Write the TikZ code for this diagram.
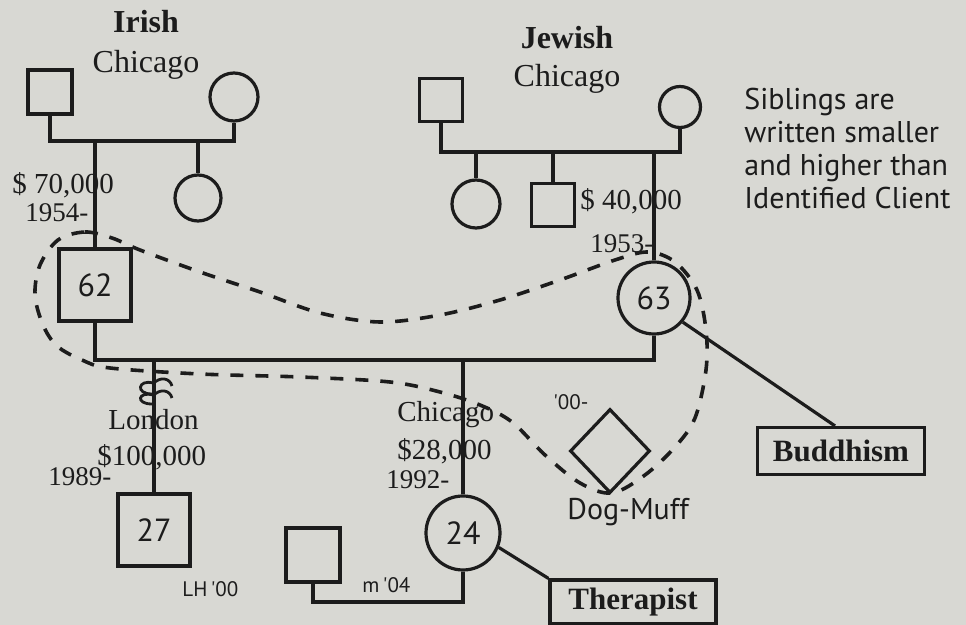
\documentclass[tikz,border=0pt]{standalone}
\usepackage{fontspec}
\setmainfont{Liberation Serif}
\newfontfamily\labelsans{PT Sans}
\usepackage{tikz}
\usetikzlibrary{shapes.geometric, positioning}
\definecolor{paper}{RGB}{216,216,211}
\definecolor{ink}{RGB}{28,28,28}
\tikzset{
  male/.style={rectangle, draw=ink, line width=1.6pt, inner sep=0pt, minimum size=#1,
               font=\labelsans\fontsize{16}{16}\selectfont, text=ink},
  female/.style={circle, draw=ink, line width=1.6pt, inner sep=0pt, minimum size=#1,
               font=\labelsans\fontsize{16}{16}\selectfont, text=ink},
  pet/.style={diamond, draw=ink, line width=1.6pt, inner sep=0pt,
              minimum width=40pt, minimum height=42pt},
  origin/.style={font=\bfseries\fontsize{16}{18}\selectfont, text=ink, inner sep=0pt},
  city/.style={font=\fontsize{16}{18}\selectfont, text=ink, inner sep=0pt},
  info/.style={font=\fontsize{14.5}{16}\selectfont, text=ink, inner sep=0pt, anchor=base west},
  since/.style={font=\fontsize{13.5}{15}\selectfont, text=ink, inner sep=0pt, anchor=base west},
  note/.style={font=\labelsans\fontsize{10.5}{12}\selectfont, text=ink, inner sep=0pt, anchor=base west},
  issue/.style={rectangle, draw=ink, line width=1.6pt, inner sep=0pt,
                font=\bfseries\fontsize{15.5}{17}\selectfont, text=ink},
  rel/.style={draw=ink, line width=1.6pt},
  boundary/.style={draw=ink, line width=1.8pt, dash pattern=on 6.5pt off 6pt},
}

\begin{document}
\begin{tikzpicture}[x=0.5pt, y=-0.5pt]

  % ── Paper ────────────────────────────────────────────────────────────
  \fill[paper] (0,0) rectangle (966,625);
  \useasboundingbox (0,0) rectangle (966,625);

  % ── Irish side ───────────────────────────────────────────────────────
  \node[origin] (irish) at (146,22) {Irish};
  \node[city] (irishcity) at (146,65) {Chicago};
  \node[male=22pt] (irishdad) at (50,92) {};
  \node[female=24pt] (irishmom) at (234,97) {};
  \node[female=23pt] (aunt) at (198,198) {};
  \coordinate (irishbar) at (140,141);
  \draw[rel] (irishdad.south) |- (irishbar) -| (irishmom.south);
  \draw[rel] (aunt.north |- irishbar) -- (aunt.north);

  % ── Jewish side ──────────────────────────────────────────────────────
  \node[origin] (jewish) at (567,38) {Jewish};
  \node[city] (jewishcity) at (567,79) {Chicago};
  \node[male=21.5pt] (jewdad) at (441,100) {};
  \node[female=20.5pt] (jewmom) at (680,107) {};
  \node[female=24pt] (jewaunt) at (476,204) {};
  \node[male=21.5pt] (jewuncle) at (553,205) {};
  \coordinate (jewbar) at (560,152);
  \draw[rel] (jewdad.south) |- (jewbar) -| (jewmom.south);
  \draw[rel] (jewaunt.north |- jewbar) -- (jewaunt.north);
  \draw[rel] (jewuncle.north |- jewbar) -- (jewuncle.north);

  % ── Parents ──────────────────────────────────────────────────────────
  \node[male=36pt] (client62) at (95,285) {62};
  \node[female=36pt] (mom63) at (654,298) {63};
  \draw[rel] (client62.north |- irishbar) -- (client62.north);
  \draw[rel] (mom63.north |- jewbar) -- (mom63.north);
  \node[info] (inc62) at (12,194) {\$ 70,000};
  \node[since] (yr62) at (25,222) {1954-};
  \node[info] (inc63) at (580,210) {\$ 40,000};
  \node[since] (yr63) at (590,253) {1953-};
  \coordinate (parentbar) at (380,360);
  \draw[rel] (client62.south) |- (parentbar) -| (mom63.south);

  % ── Children ─────────────────────────────────────────────────────────
  \node[male=36pt] (son27) at (154,530) {27};
  \node[female=37pt] (dau24) at (463,533) {24};
  \draw[rel] (son27.north |- parentbar) -- (son27.north);
  \draw[rel] (dau24.north |- parentbar) -- (dau24.north);
  \node[info] (city27) at (108,430) {London};
  \node[info] (inc27) at (97,466) {\$100,000};
  \node[since] (yr27) at (48,486) {1989-};
  \node[info] (city24) at (397,422) {Chicago};
  \node[info] (inc24) at (397,460) {\$28,000};
  \node[since] (yr24) at (386,489) {1992-};
  \node[note] (lh27) at (182,597) {LH\,'00};

  % cut-off mark on the son's line
  \coordinate (cut) at (153,384);
  \begin{scope}[shift={(cut)}, line width=1.4pt]
    \draw[ink] (0,0) .. controls (7,-8) and (17,-6) .. (19,2);
    \draw[ink] (0,-1) .. controls (-15,-5) and (-18,10) .. (-1,10);
    \draw[ink] (0,12) .. controls (7,4) and (17,6) .. (19,14);
    \draw[ink] (0,11) .. controls (-15,7) and (-18,20) .. (-1,20);
  \end{scope}

  % ── Daughter's marriage ──────────────────────────────────────────────
  \node[male=27pt] (sonlaw) at (313,555) {};
  \coordinate (marr24) at (390,602);
  \draw[rel] (sonlaw.south) |- (marr24) -| (dau24.south);
  \node[note] (m24) at (362,593) {m\,'04};

  % ── Pet ──────────────────────────────────────────────────────────────
  \node[pet] (dog) at (610,451) {};
  \node[note] (dogyr) at (553,410) {'00-};
  \node[font=\labelsans\fontsize{15}{16}\selectfont, text=ink, inner sep=0pt, anchor=base west]
    (dogname) at (567,520) {Dog-Muff};

  % ── Issues ───────────────────────────────────────────────────────────
  \node[issue, minimum width=83.5pt, minimum height=23.5pt] (buddhism) at (841,451) {Buddhism};
  \node[issue, minimum width=83pt, minimum height=22pt] (therapist) at (633,602) {Therapist};
  \draw[rel] (mom63.-40) -- ([xshift=-3pt]buddhism.north);
  \draw[rel] (dau24.-22) -- (therapist.north west);

  % ── Note ─────────────────────────────────────────────────────────────
  \node[anchor=north west, align=left, inner sep=0pt, text=ink,
        font=\labelsans\fontsize{15}{16.4}\selectfont] (legend) at (744,88)
    {Siblings are\\written smaller\\and higher than\\Identified Client};

  % ── Household boundary ───────────────────────────────────────────────
  \draw[boundary] plot[smooth cycle, tension=0.55] coordinates {
    (58,240) (85,232) (112,238) (140,250) (200,272) (260,292) (320,313)
    (380,322) (440,315) (500,300) (560,280) (615,260) (648,252) (675,262)
    (697,290) (706,330) (706,370) (695,418) (675,447) (645,475) (612,493)
    (580,483) (545,455) (512,422) (480,405) (440,392) (390,382) (300,377)
    (200,374) (110,368) (82,360) (57,346) (43,325) (35,295) (40,265)};

\end{tikzpicture}
\end{document}
